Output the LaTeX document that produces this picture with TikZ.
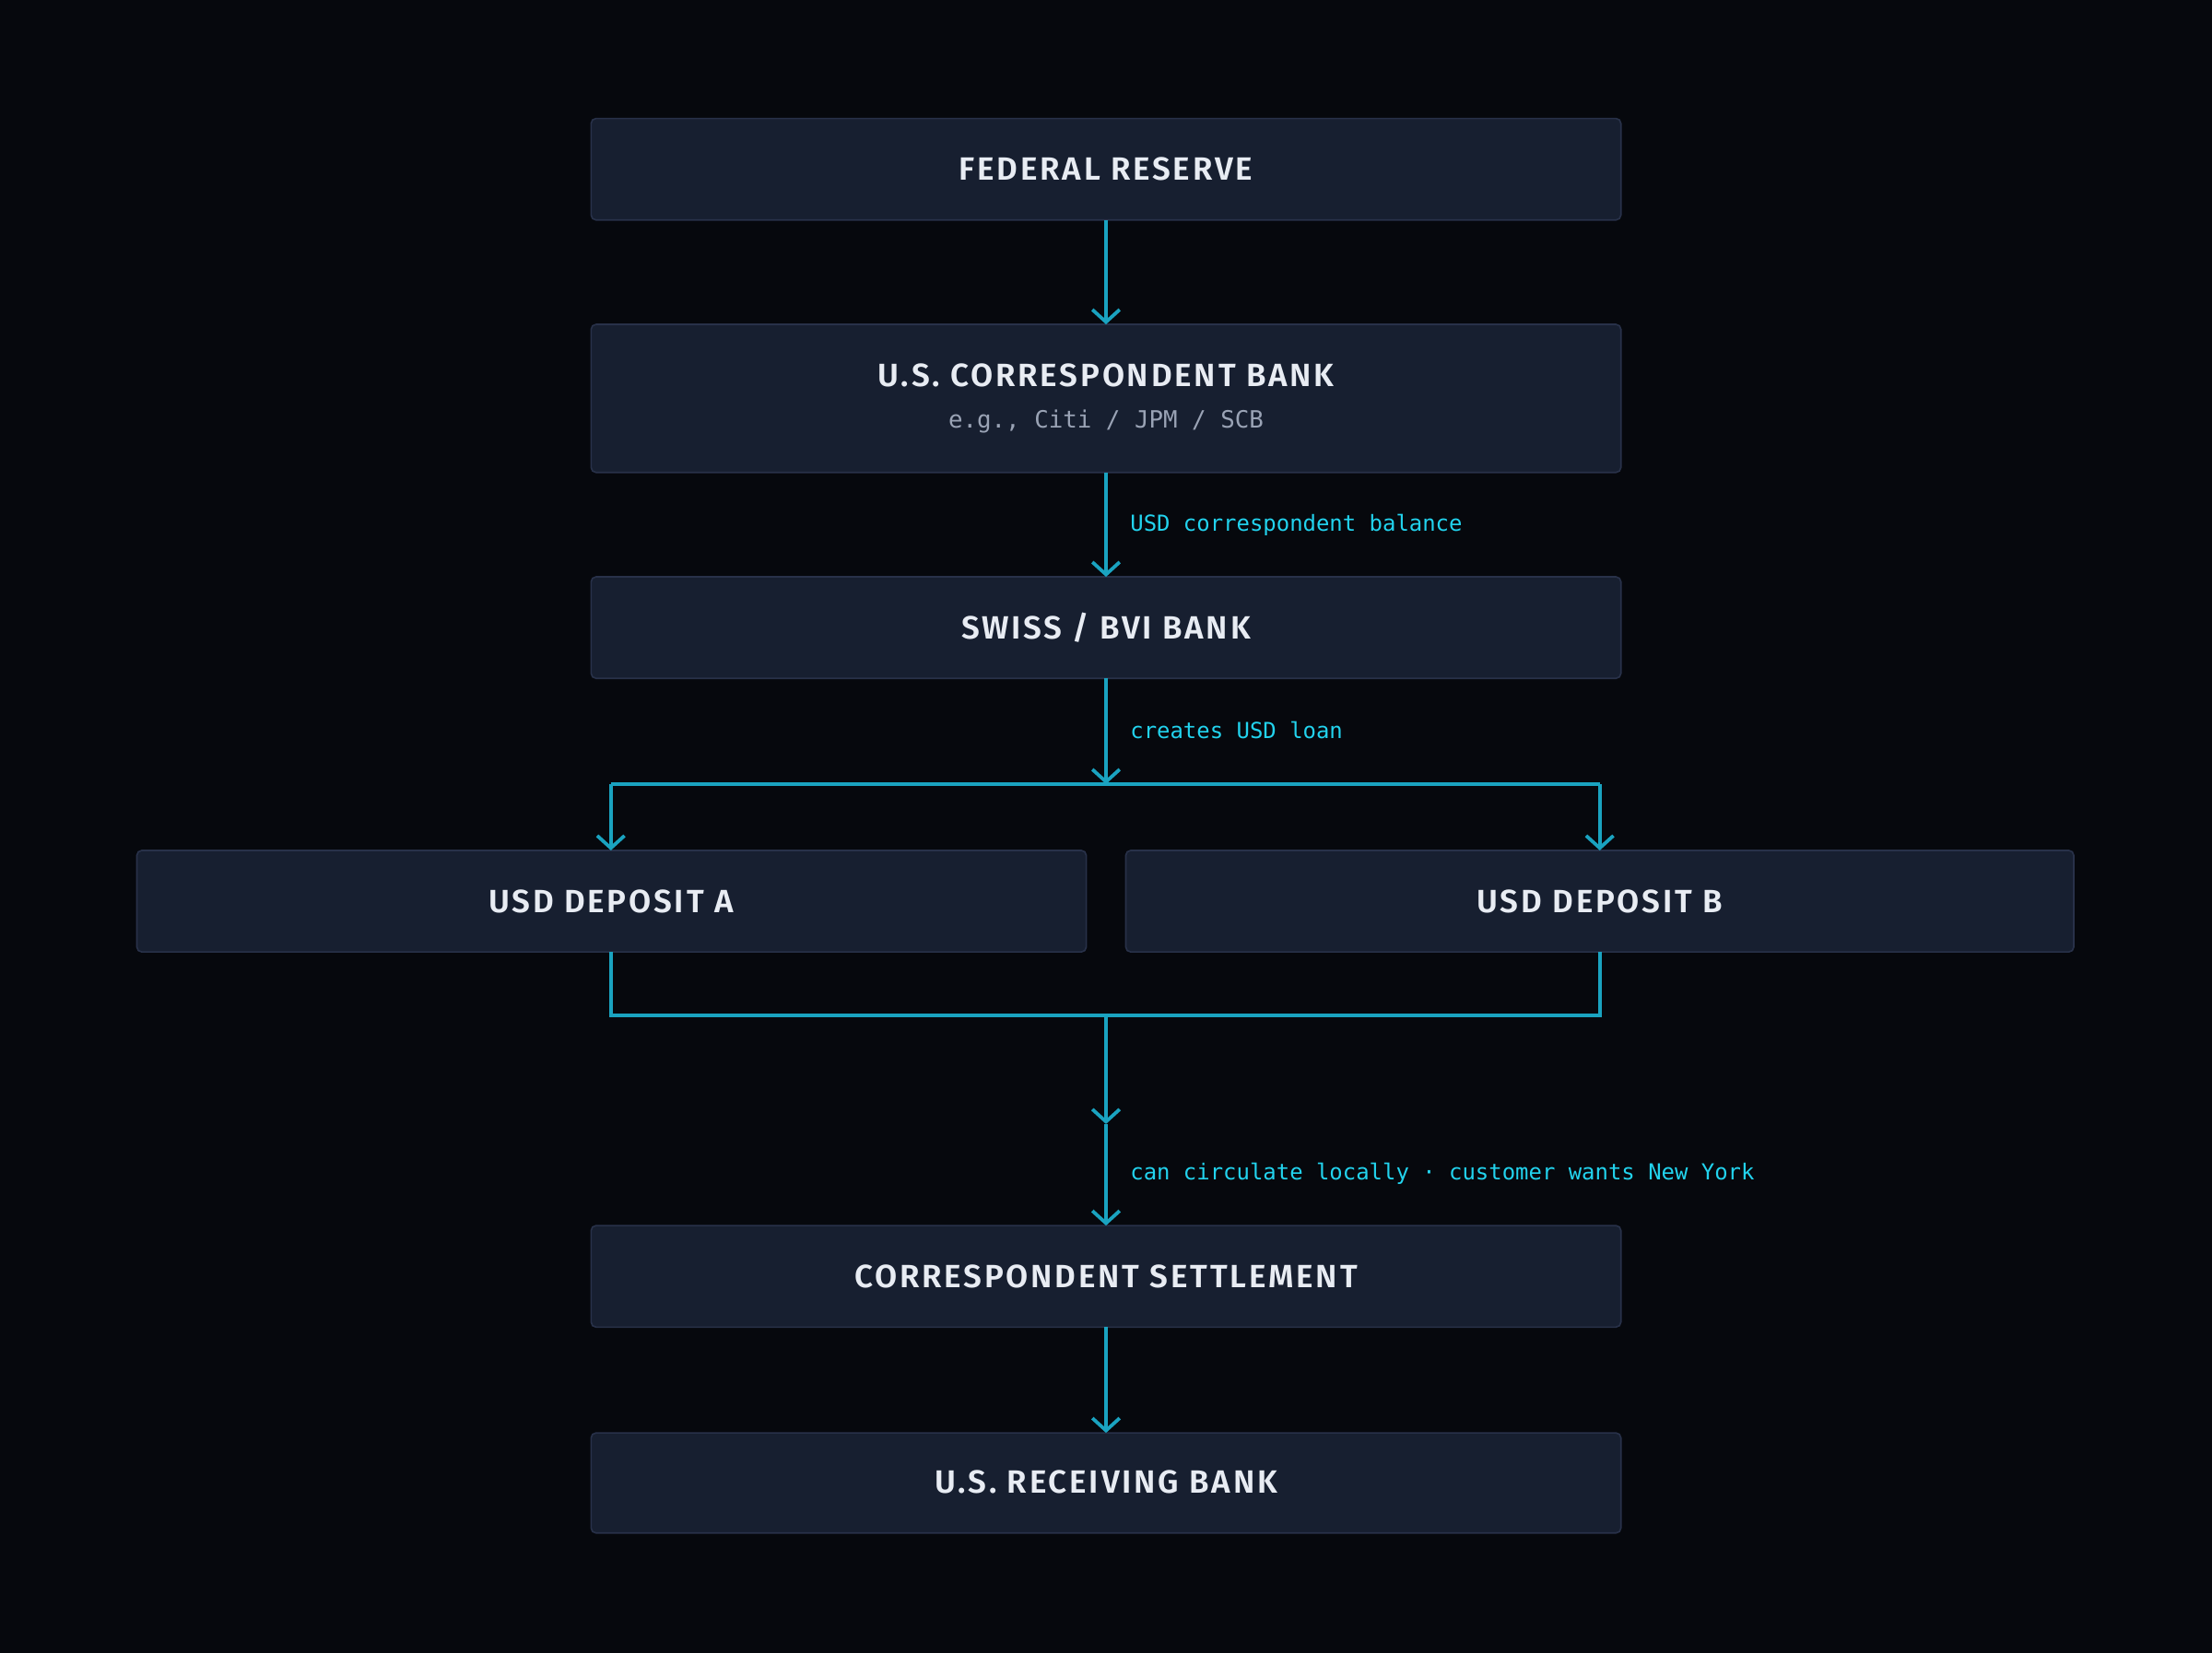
\documentclass[tikz,border=0pt]{standalone}
\usepackage{fontspec}
\setmainfont{Fira Sans}
\newfontfamily\titlefont[LetterSpace=8]{Fira Sans SemiBold}
\newfontfamily\monofont{DejaVu Sans Mono}
\usetikzlibrary{arrows.meta}
\definecolor{bg}{HTML}{06080D}
\definecolor{boxfill}{HTML}{171F30}
\definecolor{boxline}{HTML}{283149}
\definecolor{wire}{HTML}{1AA3C0}
\definecolor{lbl}{HTML}{22D3EE}
\definecolor{ttl}{HTML}{E8ECF3}
\definecolor{sub}{HTML}{9AA3B5}
\begin{document}
\begin{tikzpicture}[x=0.02cm,y=-0.02cm,
  box/.style={draw=boxline,fill=boxfill,rounded corners=2pt,line width=0.6pt},
  ttext/.style={text=ttl,font=\titlefont\fontsize{13}{15}\selectfont},
  stext/.style={text=sub,font=\monofont\fontsize{9.6}{11}\selectfont},
  ltext/.style={text=lbl,font=\monofont\fontsize{8.9}{10}\selectfont,anchor=west},
  wire/.style={draw=wire,line width=1.4pt},
  arr/.style={wire,-{Straight Barb[length=5pt,width=11pt,line width=1.4pt]}}]
\fill[bg] (0,0) rectangle (1568,1172);
\useasboundingbox (0,0) rectangle (1568,1172);
% boxes
\path[box] (419,84) rectangle (1149,156);
\node[ttext] (fed) at (784,120) {FEDERAL RESERVE};
\path[box] (419,230) rectangle (1149,335);
\node[ttext] (corr) at (784,266) {U.S. CORRESPONDENT BANK};
\node[stext] (corrsub) at (784,299) {e.g., Citi / JPM / SCB};
\path[box] (419,409) rectangle (1149,481);
\node[ttext] (swiss) at (784,445) {SWISS / BVI BANK};
\path[box] (97,603) rectangle (770,675);
\node[ttext] (depa) at (433,639) {USD DEPOSIT A};
\path[box] (798,603) rectangle (1470,675);
\node[ttext] (depb) at (1134,639) {USD DEPOSIT B};
\path[box] (419,869) rectangle (1149,941);
\node[ttext] (sett) at (784,905) {CORRESPONDENT SETTLEMENT};
\path[box] (419,1016) rectangle (1149,1087);
\node[ttext] (recv) at (784,1051) {U.S. RECEIVING BANK};
% coordinates
\coordinate (fedB) at (784,156); \coordinate (corrT) at (784,230);
\coordinate (corrB) at (784,335); \coordinate (swissT) at (784,409);
\coordinate (swissB) at (784,481); \coordinate (split) at (784,556);
\coordinate (sL) at (433,556); \coordinate (sR) at (1134,556);
\coordinate (aT) at (433,603); \coordinate (bT) at (1134,603);
\coordinate (aB) at (433,675); \coordinate (bB) at (1134,675);
\coordinate (jL) at (433,720); \coordinate (jR) at (1134,720);
\coordinate (join) at (784,720); \coordinate (mid) at (784,797);
\coordinate (settT) at (784,869); \coordinate (settB) at (784,941);
\coordinate (recvT) at (784,1016);
% connectors
\draw[arr] (fedB) -- (corrT);
\draw[arr] (corrB) -- (swissT);
\draw[arr] (swissB) -- (split);
\draw[wire] (sL) -- (sR);
\draw[arr] (sL) -- (aT);
\draw[arr] (sR) -- (bT);
\draw[wire] (aB) -- (jL) -- (jR) -- (bB);
\draw[arr] (join) -- (mid);
\draw[arr] (mid) -- (settT);
\draw[arr] (settB) -- (recvT);
% labels
\node[ltext] (l1) at (795,372) {USD correspondent balance};
\node[ltext] (l2) at (795,518) {creates USD loan};
\node[ltext] (l3) at (795,832) {can circulate locally · customer wants New York};
\end{tikzpicture}
\end{document}
